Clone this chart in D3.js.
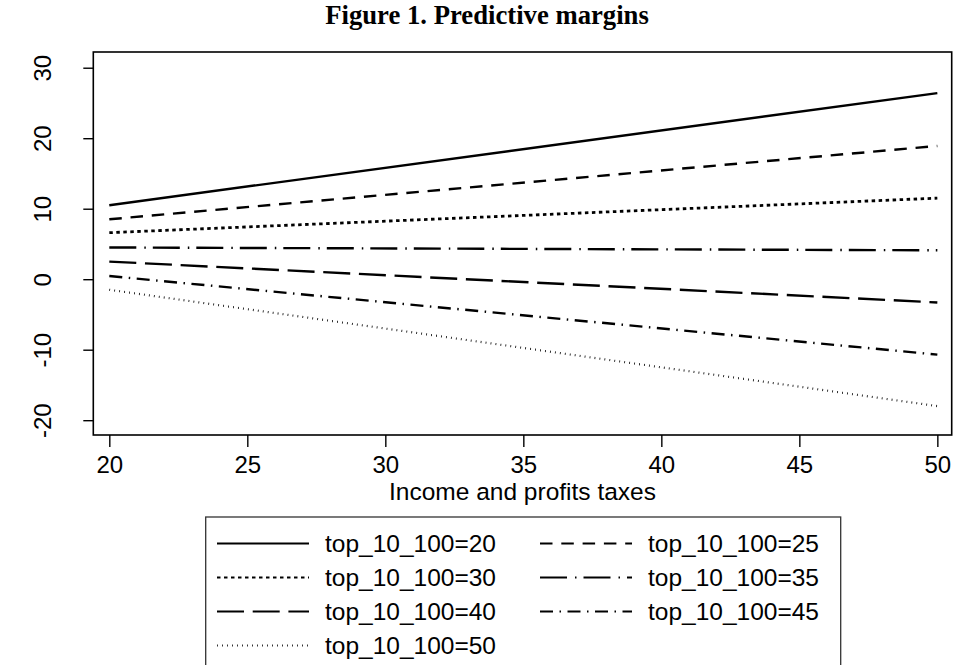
<!DOCTYPE html>
<html>
<head>
<meta charset="utf-8">
<script src="https://cdn.jsdelivr.net/npm/d3@7"></script>
<style>
  body { margin: 0; background: #fff; }
  svg { display: block; }
  text { font-family: "Liberation Sans", Arial, sans-serif; fill: #000; }
  .title { font-family: "Liberation Serif", "Times New Roman", serif; font-weight: bold; }
</style>
</head>
<body>
<div class="root"></div>
<script>
// values
var taxLevels = [20, 50];
var groups = ['top_10_100=20', 'top_10_100=25', 'top_10_100=30', 'top_10_100=35',
              'top_10_100=40', 'top_10_100=45', 'top_10_100=50'];
var m20 = [10.5, 26.4];
var m25 = [8.5, 18.9];
var m30 = [6.6, 11.5];
var m35 = [4.5, 4.1];
var m40 = [2.5, -3.3];
var m45 = [0.45, -10.7];
var m50 = [-1.5, -18.0];
var xTicks = [20, 25, 30, 35, 40, 45, 50];
var yTicks = [-20, -10, 0, 10, 20, 30];

function runChart() {
  var w = 953, h = 665;
  var left = 93.3, right = 951.7, top = 52, bottom = 435;

  // stata line patterns: solid, dash, dot, longdash_dot, longdash, dash_dot, shortdot
  var styles = [
    {dash: null, width: 2.4},
    {dash: '12.5,8.8', width: 2.4},
    {dash: '3.5,3.5', width: 2.8},
    {dash: '27,8,1.5,7', width: 2.4},
    {dash: '27,8.7', width: 2.4},
    {dash: '13,6.5,1.5,6.5', width: 2.4},
    {dash: '0.8,4.2', width: 2.2}
  ];

  var series = [m20, m25, m30, m35, m40, m45, m50].map(function(vals, i) {
    return {name: groups[i], style: styles[i],
            pts: vals.map(function(v, j) { return {x: taxLevels[j], y: v}; })};
  });

  var svg = d3.select('.root').append('svg')
    .attr('width', w)
    .attr('height', h);

  var x = d3.scaleLinear().domain([19.42, 50.52]).range([left, right]);
  var y = d3.scaleLinear().domain([-22.1, 32.23]).range([bottom, top]);

  // plain hyphen for negatives, as in the original
  var fmt = function(d) { return String(d); };

  svg.append('text')
    .attr('class', 'title')
    .attr('x', 487)
    .attr('y', 24)
    .attr('text-anchor', 'middle')
    .style('font-size', '26.7px')
    .text('Figure 1. Predictive margins');

  var xAxis = svg.append('g')
    .attr('transform', 'translate(0,' + bottom + ')')
    .call(d3.axisBottom(x).tickValues(xTicks).tickSize(12).tickFormat(fmt));
  xAxis.select('.domain').remove();
  xAxis.selectAll('line').attr('stroke', '#000').attr('stroke-width', 1.4);
  xAxis.selectAll('text')
    .attr('y', 38)
    .attr('dy', 0)
    .style('font-size', '24px')
    .style('font-family', '"Liberation Sans", Arial, sans-serif');

  var yAxis = svg.append('g')
    .attr('transform', 'translate(' + left + ',0)')
    .call(d3.axisLeft(y).tickValues(yTicks).tickSize(10).tickFormat(fmt));
  yAxis.select('.domain').remove();
  yAxis.selectAll('line').attr('stroke', '#000').attr('stroke-width', 1.4);
  yAxis.selectAll('text')
    .attr('transform', 'rotate(-90)')
    .attr('x', 0)
    .attr('y', -42)
    .attr('dy', 0)
    .attr('text-anchor', 'middle')
    .style('font-size', '24px')
    .style('font-family', '"Liberation Sans", Arial, sans-serif');

  svg.append('text')
    .attr('x', (left + right) / 2)
    .attr('y', 500)
    .attr('text-anchor', 'middle')
    .style('font-size', '24.5px')
    .text('Income and profits taxes');

  var line = d3.line()
    .x(function(d) { return x(d.x); })
    .y(function(d) { return y(d.y); });

  svg.append('g')
    .selectAll('path')
    .data(series)
    .enter().append('path')
      .attr('d', function(d) { return line(d.pts); })
      .attr('fill', 'none')
      .attr('stroke', '#000')
      .attr('stroke-width', function(d) { return d.style.width; })
      .attr('stroke-dasharray', function(d) { return d.style.dash; });

  // plot region outline
  svg.append('rect')
    .attr('x', left)
    .attr('y', top)
    .attr('width', right - left)
    .attr('height', bottom - top)
    .attr('fill', 'none')
    .attr('stroke', '#000')
    .attr('stroke-width', 1.6);

  // legend
  var legend = svg.append('g');
  legend.append('rect')
    .attr('x', 205.7)
    .attr('y', 517)
    .attr('width', 635)
    .attr('height', 200)
    .attr('fill', 'none')
    .attr('stroke', '#333')
    .attr('stroke-width', 1.3);

  var items = legend.selectAll('.item')
    .data(series)
    .enter().append('g')
      .attr('class', 'item')
      .attr('transform', function(d, i) {
        return 'translate(' + (217 + (i % 2) * 323) + ',' + (543.5 + Math.floor(i / 2) * 34) + ')';
      });

  items.append('line')
    .attr('x1', 0)
    .attr('x2', 92)
    .attr('y1', 0)
    .attr('y2', 0)
    .attr('stroke', '#000')
    .attr('stroke-width', function(d) { return Math.min(d.style.width, 2.2); })
    .attr('stroke-dasharray', function(d) { return d.style.dash; });

  items.append('text')
    .attr('x', 108)
    .attr('y', 8.6)
    .style('font-size', '24.5px')
    .text(function(d) { return d.name; });
}

window.onload = function() {
  runChart();
};
</script>
</body>
</html>
